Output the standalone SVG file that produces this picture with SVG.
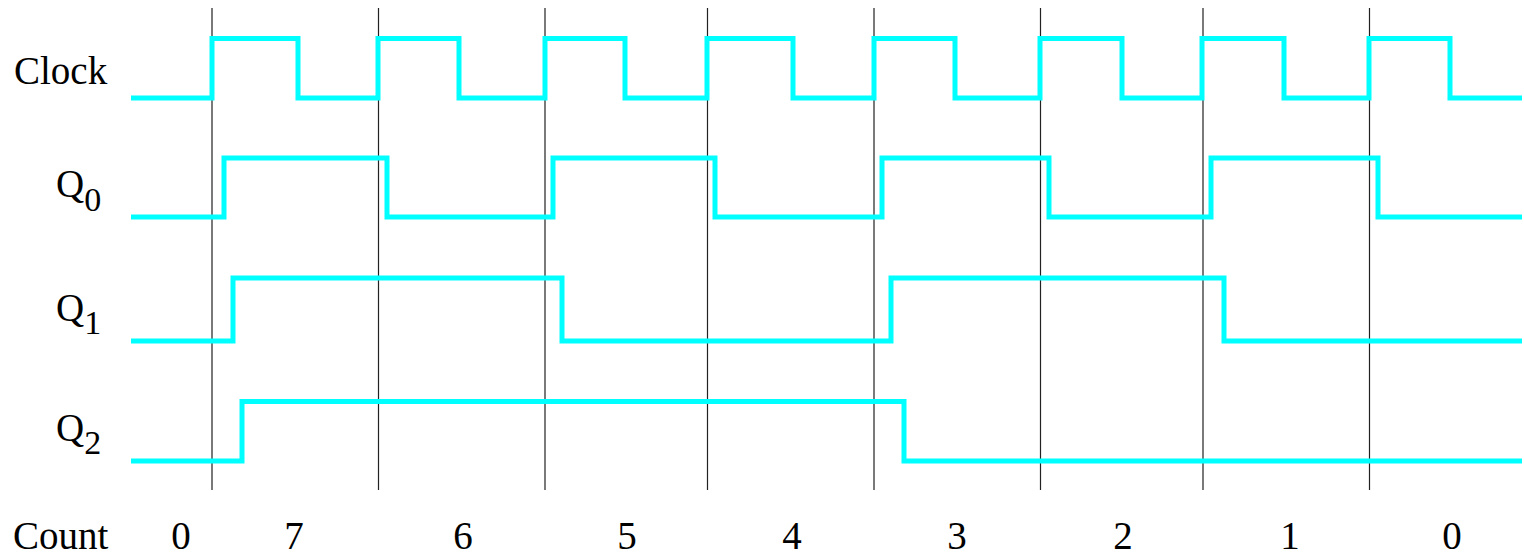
<svg xmlns="http://www.w3.org/2000/svg" width="1524" height="557" viewBox="0 0 1524 557">
<style>
  .wave { fill: none; stroke: #00FFFF; stroke-width: 5; stroke-linejoin: miter; stroke-linecap: butt; }
  .grid { stroke: #222; stroke-width: 1.2; fill: none; }
  .num { text-anchor: middle; }
</style>
<rect width="1524" height="557" fill="#fff"/>
<g id="gridlines">
  <path class="grid" d="M212,8 V490 M378.5,8 V490 M545,8 V490 M707.5,8 V490 M874,8 V490 M1040.5,8 V490 M1203,8 V490 M1369.5,8 V490"/>
</g>
<g font-family="Liberation Serif, serif" font-size="39" fill="#000">
<g id="clock">
  <text x="14" y="84">Clock</text>
  <path class="wave" d="M131,98 H212 V38.5 H298 V98 H378 V38.5 H459 V98 H545 V38.5 H625 V98 H707 V38.5 H793 V98 H874 V38.5 H955 V98 H1040 V38.5 H1122 V98 H1202 V38.5 H1284 V98 H1369 V38.5 H1450 V98 H1522"/>
</g>
<g id="q0">
  <text x="56" y="197">Q<tspan font-size="34" dy="14">0</tspan></text>
  <path class="wave" d="M131,217 H224 V158 H387 V217 H553 V158 H715 V217 H882 V158 H1049 V217 H1211 V158 H1378 V217 H1522"/>
</g>
<g id="q1">
  <text x="56" y="321">Q<tspan font-size="34" dy="13">1</tspan></text>
  <path class="wave" d="M131,341 H233 V278 H562 V341 H891 V278 H1224 V341 H1522"/>
</g>
<g id="q2">
  <text x="56" y="441">Q<tspan font-size="34" dy="13">2</tspan></text>
  <path class="wave" d="M131,461 H242 V401.5 H904 V461 H1522"/>
</g>
<g id="count">
  <text x="13" y="549">Count</text>
  <text class="num" x="181" y="549">0</text>
  <text class="num" x="294" y="549">7</text>
  <text class="num" x="463" y="549">6</text>
  <text class="num" x="627" y="549">5</text>
  <text class="num" x="792" y="549">4</text>
  <text class="num" x="957" y="549">3</text>
  <text class="num" x="1123" y="549">2</text>
  <text class="num" x="1290" y="549">1</text>
  <text class="num" x="1452" y="549">0</text>
</g>
</g>
</svg>
